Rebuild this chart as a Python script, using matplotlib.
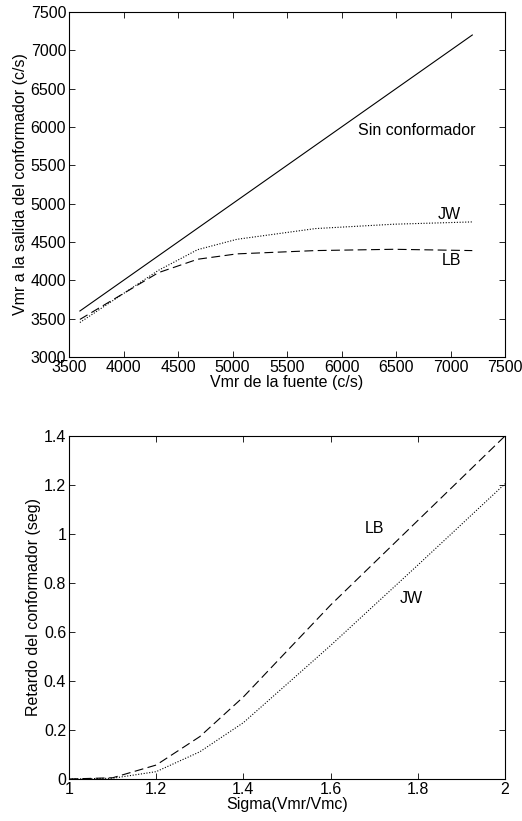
import numpy as np
import matplotlib
matplotlib.use("Agg")
import matplotlib.pyplot as plt

plt.rcParams['font.family'] = ['Liberation Sans', 'DejaVu Sans']

# Top chart: Vmr de la fuente vs Vmr a la salida
vmr_fuente = [3600, 4320, 4680, 5040, 5760, 6480, 7200]
sin_conf = [3600, 4320, 4680, 5040, 5760, 6480, 7200]
vmr_lb = [3490, 4100, 4275, 4345, 4388, 4405, 4388]
vmr_jw = [3450, 4130, 4400, 4535, 4675, 4732, 4762]

# Bottom chart: Sigma vs retardo
sigma = [1.0, 1.1, 1.2, 1.3, 1.4, 1.6, 1.8, 2.0]
ret_lb = [0.0, 0.005, 0.057, 0.173, 0.335, 0.710, 1.055, 1.40]
ret_jw = [0.0, 0.003, 0.030, 0.111, 0.230, 0.545, 0.873, 1.205]

fig = plt.figure(figsize=(5.22, 8.21), dpi=100)
W, H = 522, 821
ax1 = fig.add_axes([69 / W, 1 - 357 / H, (505 - 69) / W, (357 - 12) / H])
ax2 = fig.add_axes([69 / W, 1 - 779 / H, (505 - 69) / W, (779 - 436) / H])

fs = 11.5
lw = 0.8

ax1.plot(vmr_fuente, sin_conf, color='black', lw=lw, ls='-')
ax1.plot(vmr_fuente, vmr_lb, color='black', lw=lw, ls=(0, (8, 4)))
ax1.plot(vmr_fuente, vmr_jw, color='black', lw=lw, ls=(0, (1, 1.5)))
ax1.text(6150, 5950, 'Sin conformador', fontsize=fs, va='center', ha='left')
ax1.text(6990, 4854, 'JW', fontsize=fs, va='center', ha='center')
ax1.text(7010, 4258, 'LB', fontsize=fs, va='center', ha='center')
ax1.set_xlim(3500, 7500)
ax1.set_ylim(3000, 7500)
ax1.set_xticks(np.arange(3500, 7501, 500))
ax1.set_yticks(np.arange(3000, 7501, 500))
ax1.set_xlabel('Vmr de la fuente (c/s)', fontsize=fs, labelpad=0)
ax1.set_ylabel('Vmr a la salida del conformador (c/s)', fontsize=fs, labelpad=2)

ax2.plot(sigma, ret_lb, color='black', lw=lw, ls=(0, (8, 4)))
ax2.plot(sigma, ret_jw, color='black', lw=lw, ls=(0, (1, 1.5)))
ax2.text(1.70, 1.023, 'LB', fontsize=fs, va='center', ha='center')
ax2.text(1.784, 0.735, 'JW', fontsize=fs, va='center', ha='center')
ax2.set_xlim(1, 2)
ax2.set_ylim(0, 1.4)
ax2.set_xticks([1, 1.2, 1.4, 1.6, 1.8, 2])
ax2.set_xticklabels(['1', '1.2', '1.4', '1.6', '1.8', '2'])
ax2.set_yticks([0, 0.2, 0.4, 0.6, 0.8, 1, 1.2, 1.4])
ax2.set_yticklabels(['0', '0.2', '0.4', '0.6', '0.8', '1', '1.2', '1.4'])
ax2.set_xlabel('Sigma(Vmr/Vmc)', fontsize=fs, labelpad=0)
ax2.set_ylabel('Retardo del conformador (seg)', fontsize=fs, labelpad=2)

for ax in (ax1, ax2):
    ax.tick_params(direction='in', top=True, right=True, length=4, width=0.6,
                   labelsize=fs, pad=2)
    for sp in ax.spines.values():
        sp.set_linewidth(0.8)

fig.savefig('out.png', dpi=100)
